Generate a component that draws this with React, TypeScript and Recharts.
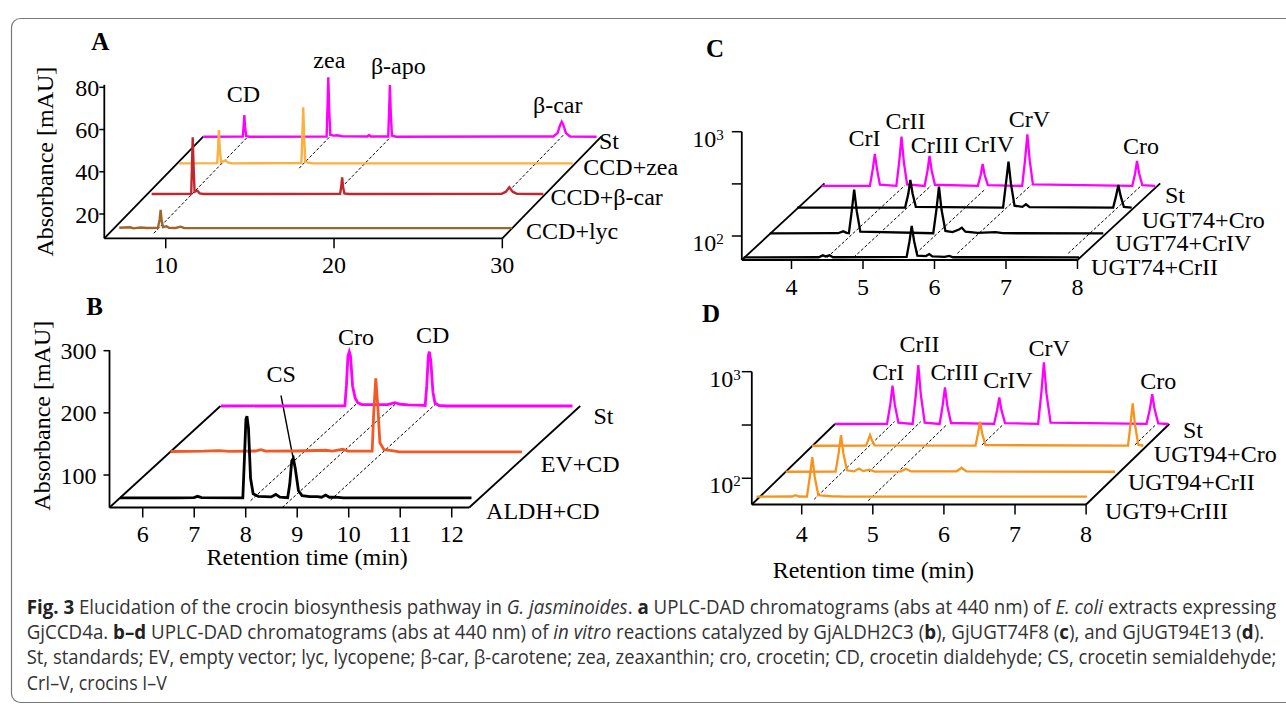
import React from "react";
import { LineChart, Line, XAxis, YAxis, ReferenceLine, ReferenceDot } from "recharts";

type Pt = [number, number];

const W = 1286;
const H = 704;
const SERIF = "'Liberation Serif', 'Times New Roman', Times, serif";
const SANS = "'Open Sans', 'Noto Sans', 'Liberation Sans', sans-serif";

// ---------- A: E. coli extracts expressing GjCCD4a (retention min, mAU) ----------
const aNames = ["St", "CCD+zea", "CCD+β-car", "CCD+lyc"];
const aPeaks = ["CD", "zea", "β-apo", "β-car"];
const aXTicks = [10, 20, 30];
const aYTicks = [20, 40, 60, 80];
const aLinks = [9.0, 13.87, 17.5, 27.65];
const aSt: Pt[] = [
  [6.35, 8.5], [8.7, 8.6], [8.75, 13.5], [8.79, 18.8], [8.83, 13.5], [8.9, 8.8], [9.1, 8.5],
  [13.68, 8.6], [13.73, 22.0], [13.78, 36.6], [13.83, 22.0], [13.9, 9.3], [14.1, 9.0], [14.3, 9.2],
  [14.6, 8.7], [16.1, 8.6], [16.2, 9.3], [16.3, 8.6], [17.34, 8.6], [17.39, 20.0], [17.44, 33.0],
  [17.49, 20.0], [17.56, 9.0], [17.8, 8.5], [27.15, 8.6], [27.4, 10.2], [27.55, 14.0], [27.65, 15.6],
  [27.75, 14.0], [27.9, 10.2], [28.15, 8.6], [29.72, 8.5],
];
const aZea: Pt[] = [
  [6.46, 8.5], [8.72, 8.6], [8.77, 15.0], [8.82, 24.3], [8.87, 15.5], [8.95, 9.0], [9.1, 9.5],
  [9.2, 9.9], [9.35, 8.9], [9.6, 8.5], [13.72, 8.6], [13.78, 22.0], [13.83, 35.0], [13.88, 22.0],
  [13.95, 9.5], [14.1, 8.8], [14.4, 8.5], [29.84, 8.5],
];
const aBcar: Pt[] = [
  [6.6, 8.5], [8.95, 8.6], [8.99, 20.0], [9.04, 35.3], [9.09, 22.0], [9.15, 9.5], [9.25, 9.9],
  [9.32, 10.0], [9.45, 8.8], [9.7, 8.5], [17.8, 8.6], [17.87, 12.5], [17.92, 16.4], [17.97, 12.0],
  [18.05, 8.8], [18.3, 8.5], [27.4, 8.6], [27.65, 9.6], [27.85, 11.7], [28.05, 9.6], [28.3, 8.6],
  [29.87, 8.5],
];
const aLyc: Pt[] = [
  [6.65, 8.7], [7.3, 8.9], [7.5, 8.4], [7.9, 8.8], [8.3, 8.6], [8.95, 8.7], [9.05, 12.5],
  [9.11, 17.2], [9.17, 12.0], [9.25, 9.0], [9.45, 9.4], [9.6, 8.7], [10.0, 8.6], [10.3, 9.2],
  [10.5, 8.6], [12.5, 8.5], [30.0, 8.5],
];

// ---------- B: GjALDH2C3 reaction (retention min, mAU) ----------
const bNames = ["St", "EV+CD", "ALDH+CD"];
const bPeaks = ["Cro", "CD", "CS"];
const bXTicks = [6, 7, 8, 9, 10, 11, 12];
const bYTicks = [100, 200, 300];
const bLinks = [7.95, 8.71, 9.49];
const bSt: Pt[] = [
  [5.365, 47.7], [7.77, 47.9], [7.8, 80.0], [7.83, 128.0], [7.856, 135.1], [7.88, 128.0],
  [7.92, 80.0], [7.97, 60.6], [8.02, 53.0], [8.1, 50.0], [8.6, 50.0], [8.74, 53.0], [8.85, 50.5],
  [9.0, 49.5], [9.2, 49.0], [9.33, 48.5], [9.36, 80.0], [9.39, 128.0], [9.41, 135.1], [9.44, 120.0],
  [9.48, 70.0], [9.52, 52.5], [9.6, 48.5], [9.75, 47.7], [12.19, 47.7],
];
const bEv: Pt[] = [
  [5.355, 48.0], [6.0, 48.5], [6.3, 49.5], [6.5, 48.3], [7.0, 48.8], [7.11, 51.0], [7.2, 48.5],
  [7.8, 48.8], [8.37, 50.0], [8.5, 48.5], [8.7, 51.5], [8.8, 48.5], [9.27, 48.8], [9.3, 110.0],
  [9.34, 165.8], [9.38, 120.0], [9.42, 62.0], [9.5, 51.0], [9.65, 49.5], [9.8, 47.5], [12.18, 47.5],
];
const bAldh: Pt[] = [
  [5.365, 48.5], [6.5, 48.5], [6.8, 49.0], [6.87, 51.0], [6.95, 48.8], [7.75, 48.5], [7.78, 110.0],
  [7.81, 175.0], [7.83, 180.1], [7.86, 160.0], [7.9, 80.0], [7.95, 55.0], [8.05, 51.0], [8.3, 50.0],
  [8.39, 54.0], [8.47, 49.5], [8.62, 48.8], [8.66, 70.0], [8.7, 108.0], [8.73, 112.1], [8.77, 95.0],
  [8.83, 60.0], [8.9, 52.0], [9.05, 50.5], [9.2, 50.5], [9.28, 49.5], [9.36, 53.0], [9.43, 49.5],
  [9.55, 49.8], [9.7, 48.5], [12.19, 48.5],
];

// ---------- C: GjUGT74F8 reactions (retention min, log absorbance) ----------
const cNames = ["St", "UGT74+Cro", "UGT74+CrIV", "UGT74+CrII"];
const crPeaks = ["CrI", "CrII", "CrIII", "CrIV", "CrV", "Cro"];
const cdXTicks = [4, 5, 6, 7, 8];
const cdYTicks = [100, 316, 1000];
const cLinks = [4.46, 4.83, 5.64, 6.22, 7.77];
const cSt: Pt[] = [
  [3.305, 58.9], [3.98, 58.9], [4.02, 85], [4.049, 119.4], [4.08, 85], [4.12, 60.5], [4.35, 59],
  [4.39, 100], [4.422, 175], [4.455, 100], [4.5, 61], [4.745, 59], [4.785, 82], [4.814, 114.3],
  [4.845, 82], [4.89, 60.5], [5.49, 59], [5.53, 75], [5.557, 95.7], [5.585, 75], [5.63, 60],
  [6.11, 59], [6.15, 104], [6.182, 184.4], [6.215, 104], [6.26, 61], [7.65, 59], [7.69, 78],
  [7.716, 102.4], [7.745, 78], [7.79, 60], [7.968, 58.9],
];
const cCro: Pt[] = [
  [3.29, 58.9], [4.8, 59], [4.845, 80], [4.873, 108.6], [4.905, 80], [4.95, 60], [6.17, 59],
  [6.21, 100], [6.246, 162.6], [6.28, 100], [6.33, 61.5], [6.44, 60], [6.49, 63.5], [6.54, 59.5],
  [7.71, 59], [7.75, 76], [7.782, 97.3], [7.815, 76], [7.86, 60], [7.969, 58.9],
];
const cCrIV: Pt[] = [
  [3.294, 58.9], [4.25, 59], [4.32, 61.5], [4.37, 59.5], [4.4, 59], [4.44, 96], [4.474, 154.2],
  [4.51, 96], [4.56, 61], [5.58, 59], [5.625, 100], [5.66, 164.8], [5.695, 100], [5.75, 62],
  [5.85, 60.5], [5.94, 64], [5.98, 66.7], [6.03, 61], [6.2, 59.5], [6.45, 60.5], [6.55, 59],
  [7.958, 58.9],
];
const cCrII: Pt[] = [
  [3.292, 58.9], [4.34, 59], [4.399, 61.5], [4.44, 60], [4.492, 61.5], [4.54, 59], [5.57, 59.5],
  [5.61, 84], [5.641, 117.5], [5.675, 84], [5.72, 61], [5.84, 60.5], [5.886, 63.3], [5.93, 60],
  [6.1, 59.5], [6.166, 60.8], [6.22, 59], [7.981, 58.9],
];

// ---------- D: GjUGT94E13 reactions (retention min, log absorbance) ----------
const dNames = ["St", "UGT94+Cro", "UGT94+CrII", "UGT9+CrIII"];
const dLinks = [4.1, 4.47, 4.88, 5.67, 7.82];
const dSt: Pt[] = [
  [3.298, 56.75], [4.03, 56.9], [4.075, 85.8], [4.107, 129.7], [4.14, 85.8], [4.19, 58.5],
  [4.39, 56.9], [4.435, 107.3], [4.47, 202.8], [4.505, 107.3], [4.56, 58.5], [4.77, 56.9],
  [4.812, 84.3], [4.845, 125.3], [4.878, 84.3], [4.93, 58], [5.535, 56.9], [5.577, 75.7],
  [5.609, 100.9], [5.641, 75.7], [5.69, 57.8], [6.155, 56.9], [6.2, 110.5], [6.236, 215.3],
  [6.272, 110.5], [6.33, 58.5], [7.68, 56.9], [7.727, 78.4], [7.76, 108.4], [7.793, 78.4],
  [7.845, 57.5], [7.986, 56.75],
];
const dCro: Pt[] = [
  [3.29, 56.75], [4.05, 56.9], [4.08, 63.7], [4.107, 71.4], [4.135, 63.7], [4.17, 57.2],
  [5.59, 56.9], [5.625, 73.5], [5.654, 95.3], [5.685, 73.5], [5.73, 57.5], [7.735, 56.9],
  [7.77, 89.7], [7.801, 141.9], [7.833, 89.7], [7.88, 58], [7.951, 56.75],
];
const dCrII: Pt[] = [
  [3.298, 56.75], [4.0, 56.9], [4.043, 84.3], [4.076, 125.3], [4.11, 84.3], [4.16, 58.5],
  [4.26, 57.2], [4.329, 60.9], [4.39, 57.5], [4.474, 59.4], [4.55, 57], [4.92, 57.1],
  [4.989, 60.5], [5.06, 57.1], [5.7, 57.1], [5.772, 61.9], [5.84, 57.1], [7.93, 56.75],
];
const dCrIII: Pt[] = [
  [3.25, 56.75], [3.75, 57], [3.8, 58.6], [3.85, 57], [3.96, 56.9], [4.0, 86.9], [4.035, 133],
  [4.07, 86.9], [4.12, 58.5], [4.3, 57.3], [4.5, 56.9], [7.898, 56.75],
];

const caption: [string, string][][] = [
  [["Fig. 3", "b"], [" Elucidation of the crocin biosynthesis pathway in ", ""], ["G. jasminoides", "i"], [". ", ""], ["a", "b"], [" UPLC-DAD chromatograms (abs at 440 nm) of ", ""], ["E. coli", "i"], [" extracts expressing", ""]],
  [["GjCCD4a. ", ""], ["b–d", "b"], [" UPLC-DAD chromatograms (abs at 440 nm) of ", ""], ["in vitro", "i"], [" reactions catalyzed by GjALDH2C3 (", ""], ["b", "b"], ["), GjUGT74F8 (", ""], ["c", "b"], ["), and GjUGT94E13 (", ""], ["d", "b"], [").", ""]],
  [["St, standards; EV, empty vector; lyc, lycopene; β-car, β-carotene; zea, zeaxanthin; cro, crocetin; CD, crocetin dialdehyde; CS, crocetin semialdehyde;", ""]],
  [["CrI–V, crocins I–V", ""]],
];

interface Trace { name: string; color: string; depth: number; points: Pt[]; width: number }
interface Tag { text: string; at: Pt; anchor: "center" | "right"; angle?: number }
interface Spec {
  origin: Pt; // pixel of the front-left floor corner
  pxPerX: number;
  pxPerY: number; // per unit, or per decade when log
  x: Pt;
  y: Pt;
  log: boolean;
  shift: Pt; // full depth shift (minutes, units or decades)
  floorEnd: number;
  axisTop: number;
  xTicks: number[];
  yTicks: number[];
  xTick: Pt; // size, margin
  yTick: Pt;
  traces: Trace[];
  links: number[];
  linkFrom: number[];
  linkTo: number[];
  tags: Tag[];
  leader?: [Pt, Pt];
}

const center = (names: string[], pos: Pt[]): Tag[] =>
  names.map((t, i) => ({ text: t, at: pos[i], anchor: "center" }));
const right = (names: string[], pos: Pt[]): Tag[] =>
  names.map((t, i) => ({ text: t, at: pos[i], anchor: "right" }));

const specA: Spec = {
  origin: [104.3, 238.3], pxPerX: 16.83, pxPerY: 2.112,
  x: [6.35, 37], y: [8.5, 100], log: false, shift: [5.88, 48.1],
  floorEnd: 30, axisTop: 81.2, xTicks: aXTicks, yTicks: aYTicks,
  xTick: [10, 8], yTick: [5, 0],
  traces: [
    { name: aNames[0], color: "#ff00ff", depth: 1, points: aSt, width: 2.4 },
    { name: aNames[1], color: "#fbb040", depth: 0.738, points: aZea, width: 2.4 },
    { name: aNames[2], color: "#c1272d", depth: 0.436, points: aBcar, width: 2.4 },
    { name: aNames[3], color: "#a0652a", depth: 0.1, points: aLyc, width: 2.4 },
  ],
  links: aLinks, linkFrom: [0.05, 0.69, 0.5, 0.5], linkTo: [1.0, 1.02, 1.0, 1.02],
  tags: [
    ...center(aPeaks, [[14.61, 77.2], [19.72, 93.2], [23.82, 90.1], [33.29, 71.9]]),
    ...right(aNames, [[35.74, 55.0], [34.81, 42.7], [32.86, 28.5], [31.41, 12.4]]),
    { text: "Absorbance [mAU]", at: [2.78, 44.8], anchor: "center", angle: -90 },
  ],
};

const specB: Spec = {
  origin: [109.5, 507.5], pxPerX: 51.5, pxPerY: 0.6215,
  x: [5.355, 14.7], y: [47.7, 335], log: false, shift: [2.155, 163.3],
  floorEnd: 12.34, axisTop: 301, xTicks: bXTicks, yTicks: bYTicks,
  xTick: [10, 7], yTick: [6, 7],
  traces: [
    { name: bNames[0], color: "#ff00ff", depth: 1, points: bSt, width: 2.8 },
    { name: bNames[1], color: "#f15a24", depth: 0.55, points: bEv, width: 2.8 },
    { name: bNames[2], color: "#000000", depth: 0.09, points: bAldh, width: 2.8 },
  ],
  links: bLinks, linkFrom: [0.067, 0, 0.074], linkTo: [1.02, 1.02, 1.02],
  tags: [
    ...center(bPeaks, [[10.141, 322.5], [11.631, 325.3], [8.687, 263.6]]),
    ...right(bNames, [[14.751, 196.5], [13.73, 118.8], [12.668, 43.7]]),
    { text: "Absorbance [mAU]", at: [4.044, 195.4], anchor: "center", angle: -90 },
    { text: "Retention time (min)", at: [9.194, -31.5], anchor: "center" },
  ],
  leader: [[8.685, 227.9], [8.918, 128.2]],
};

const specC: Spec = {
  origin: [741.8, 260], pxPerX: 71.5, pxPerY: 104.3,
  x: [3.305, 9.25], y: [Math.pow(10, 1.77), Math.pow(10, 3.35)], log: true, shift: [1.157, 0.7354],
  floorEnd: 8.0, axisTop: 1000, xTicks: cdXTicks, yTicks: cdYTicks,
  xTick: [9, 9], yTick: [10, 8],
  traces: [
    { name: cNames[0], color: "#ff00ff", depth: 0.965, points: cSt, width: 2.3 },
    { name: cNames[1], color: "#000000", depth: 0.682, points: cCro, width: 2.3 },
    { name: cNames[2], color: "#000000", depth: 0.348, points: cCrIV, width: 2.3 },
    { name: cNames[3], color: "#000000", depth: 0.035, points: cCrII, width: 2.3 },
  ],
  links: cLinks, linkFrom: [0.035, 0.035, 0.087, 0.087, 0.087], linkTo: [0.97, 0.97, 0.913, 0.98, 0.98],
  tags: [
    ...center(crPeaks, [[5.02, 883], [5.594, 1295], [6.002, 762], [6.767, 774], [7.326, 1345], [8.888, 746]]),
    ...right(cNames, [[9.224, 250], [8.899, 145.5], [8.526, 86.3], [8.19, 50.8]]),
  ],
};

const specD: Spec = {
  origin: [751.8, 504.5], pxPerX: 71.1, pxPerY: 106.6,
  x: [3.298, 9.2], y: [Math.pow(10, 1.754), Math.pow(10, 3.3)], log: true, shift: [1.17, 0.755],
  floorEnd: 8.0, axisTop: 1000, xTicks: cdXTicks, yTicks: cdYTicks,
  xTick: [10, 10], yTick: [10, 1],
  traces: [
    { name: dNames[0], color: "#ff00ff", depth: 1, points: dSt, width: 2.3 },
    { name: dNames[1], color: "#f7941d", depth: 0.73, points: dCro, width: 2.3 },
    { name: dNames[2], color: "#f7941d", depth: 0.407, points: dCrII, width: 2.3 },
    { name: dNames[3], color: "#f7941d", depth: 0.097, points: dCrIII, width: 2.3 },
  ],
  links: dLinks, linkFrom: [0.065, 0.407, 0.047, 0.74, 0.74], linkTo: [1.03, 1.03, 0.985, 0.985, 0.985],
  tags: [
    ...center(crPeaks, [[5.218, 1014], [5.657, 1845], [6.15, 1000], [6.901, 848], [7.481, 1694], [9.014, 835]]),
    ...right(dNames, [[9.363, 288], [8.952, 171.5], [8.588, 92.9], [8.267, 50.4]]),
    { text: "Retention time (min)", at: [5.007, 13.8], anchor: "center" },
  ],
};

function PlainTick(props: any) {
  const { x, y, payload, textAnchor, side } = props;
  return (
    <text
      x={x}
      y={y}
      dy={side === "x" ? "0.71em" : "0.355em"}
      textAnchor={textAnchor}
      fontSize={24}
      fontFamily={SERIF}
      fill="#000"
    >
      {payload.value}
    </text>
  );
}

function LogTick(props: any) {
  const { x, y, payload } = props;
  const lg = Math.log10(payload.value);
  const exp = Math.round(lg);
  if (Math.abs(lg - exp) > 0.01) return <g />;
  return (
    <text x={x} y={y + 15} textAnchor="end" fontSize={24} fontFamily={SERIF} fill="#000">
      10<tspan dy={-7} fontSize={15}>{exp}</tspan>
    </text>
  );
}

function Panel({ spec }: { spec: Spec }) {
  const { x, y, log, shift } = spec;
  const left = spec.origin[0];
  const bottom = spec.origin[1];
  const rightPx = left + (x[1] - x[0]) * spec.pxPerX;
  const top = bottom - (log ? Math.log10(y[1] / y[0]) : y[1] - y[0]) * spec.pxPerY;
  const at = (rt: number, v: number, d: number) => ({
    x: rt + d * shift[0],
    y: log ? v * Math.pow(10, d * shift[1]) : v + d * shift[1],
  });
  const y0 = y[0];
  const floor = [
    [at(x[0], y0, 0), at(spec.floorEnd, y0, 0)],
    [at(x[0], y0, 0), at(x[0], y0, 1)],
    [at(spec.floorEnd, y0, 0), at(spec.floorEnd, y0, 1)],
    [at(x[0], y0, 0), { x: x[0], y: spec.axisTop }],
  ];
  const font = { fontSize: 24, fontFamily: SERIF, fill: "#000" };

  return (
    <div style={{ position: "absolute", left: 0, top: 0 }}>
      <LineChart
        width={W}
        height={H}
        margin={{ top, left: left - 60, right: W - rightPx, bottom: H - bottom - 30 }}
      >
        <XAxis
          type="number"
          dataKey="x"
          domain={x}
          ticks={spec.xTicks}
          interval={0}
          height={30}
          axisLine={false}
          tickLine={{ stroke: "#000", strokeWidth: 1.5 }}
          tickSize={spec.xTick[0]}
          tickMargin={spec.xTick[1]}
          tick={(p: any) => <PlainTick {...p} side="x" />}
        />
        <YAxis
          type="number"
          domain={y}
          scale={log ? "log" : "linear"}
          ticks={spec.yTicks}
          interval={0}
          width={60}
          axisLine={false}
          tickLine={{ stroke: "#000", strokeWidth: 1.5 }}
          tickSize={spec.yTick[0]}
          tickMargin={spec.yTick[1]}
          tick={(p: any) => (log ? <LogTick {...p} /> : <PlainTick {...p} side="y" />)}
        />
        {floor.map((s, i) => (
          <ReferenceLine key={`f${i}`} segment={s} stroke="#000" strokeWidth={1.8} ifOverflow="visible" />
        ))}
        {spec.links.map((rt, i) => (
          <ReferenceLine
            key={`l${i}`}
            segment={[at(rt, y0, spec.linkFrom[i]), at(rt, y0, spec.linkTo[i])]}
            stroke="#000"
            strokeWidth={1}
            strokeDasharray="3 2"
            ifOverflow="visible"
          />
        ))}
        {spec.leader && (
          <ReferenceLine
            segment={[
              { x: spec.leader[0][0], y: spec.leader[0][1] },
              { x: spec.leader[1][0], y: spec.leader[1][1] },
            ]}
            stroke="#000"
            strokeWidth={1.4}
            ifOverflow="visible"
          />
        )}
        {spec.traces.map((t) => (
          <Line
            key={t.name}
            data={t.points.map(([rt, v]) => at(rt, v, t.depth))}
            dataKey="y"
            type="linear"
            stroke={t.color}
            strokeWidth={t.width}
            dot={false}
            activeDot={false}
            isAnimationActive={false}
          />
        ))}
        {spec.tags.map((g, i) => (
          <ReferenceDot
            key={`t${i}`}
            x={g.at[0]}
            y={g.at[1]}
            r={0}
            fill="none"
            stroke="none"
            ifOverflow="visible"
            label={{ value: g.text, position: g.anchor, offset: 0, angle: g.angle, ...font }}
          />
        ))}
      </LineChart>
    </div>
  );
}

// caption line squeezed horizontally to the width of the printed (condensed) line
function CaptionLine({ parts, x, y, width }: { parts: [string, string][]; x: number; y: number; width: number }) {
  const ref = React.useRef<SVGTextElement>(null);
  const [sx, setSx] = React.useState(0.85);
  React.useLayoutEffect(() => {
    if (ref.current) {
      const w = ref.current.getComputedTextLength();
      if (w > 0) setSx(width / w);
    }
  }, [width]);
  return (
    <text
      ref={ref}
      transform={`translate(${x},${y}) scale(${sx},1)`}
      fontSize={19.5}
      fontFamily={SANS}
      fill="#333"
      style={{ whiteSpace: "pre" }}
    >
      {parts.map(([s, st], j) => (
        <tspan
          key={j}
          fontWeight={st === "b" ? "bold" : "normal"}
          fontStyle={st === "i" ? "italic" : "normal"}
          fill={st === "b" ? "#222" : "#333"}
        >
          {s}
        </tspan>
      ))}
    </text>
  );
}

const letters: [string, number, number][] = [
  ["A", 100.4, 50],
  ["B", 94.7, 315],
  ["C", 715, 56.7],
  ["D", 711, 321.7],
];
const captionWidths = [1249, 1236.6, 1249, 140];
const captionBase = [614, 639, 664, 690];

export default function App() {
  return (
    <div style={{ position: "absolute", left: 0, top: 0, width: W, height: H, background: "#fff" }}>
      <svg width={W} height={H} style={{ position: "absolute", left: 0, top: 0 }}>
        <rect x={11.5} y={18.5} width={1300} height={684} rx={9} fill="none" stroke="#777" strokeWidth={1.2} />
        {letters.map(([t, lx, ly]) => (
          <text key={t} x={lx} y={ly} textAnchor="middle" fontWeight="bold" fontSize={25} fontFamily={SERIF} fill="#000">
            {t}
          </text>
        ))}
        {caption.map((line, i) => (
          <CaptionLine key={i} parts={line} x={26.7} y={captionBase[i]} width={captionWidths[i]} />
        ))}
      </svg>
      <Panel spec={specA} />
      <Panel spec={specB} />
      <Panel spec={specC} />
      <Panel spec={specD} />
    </div>
  );
}
